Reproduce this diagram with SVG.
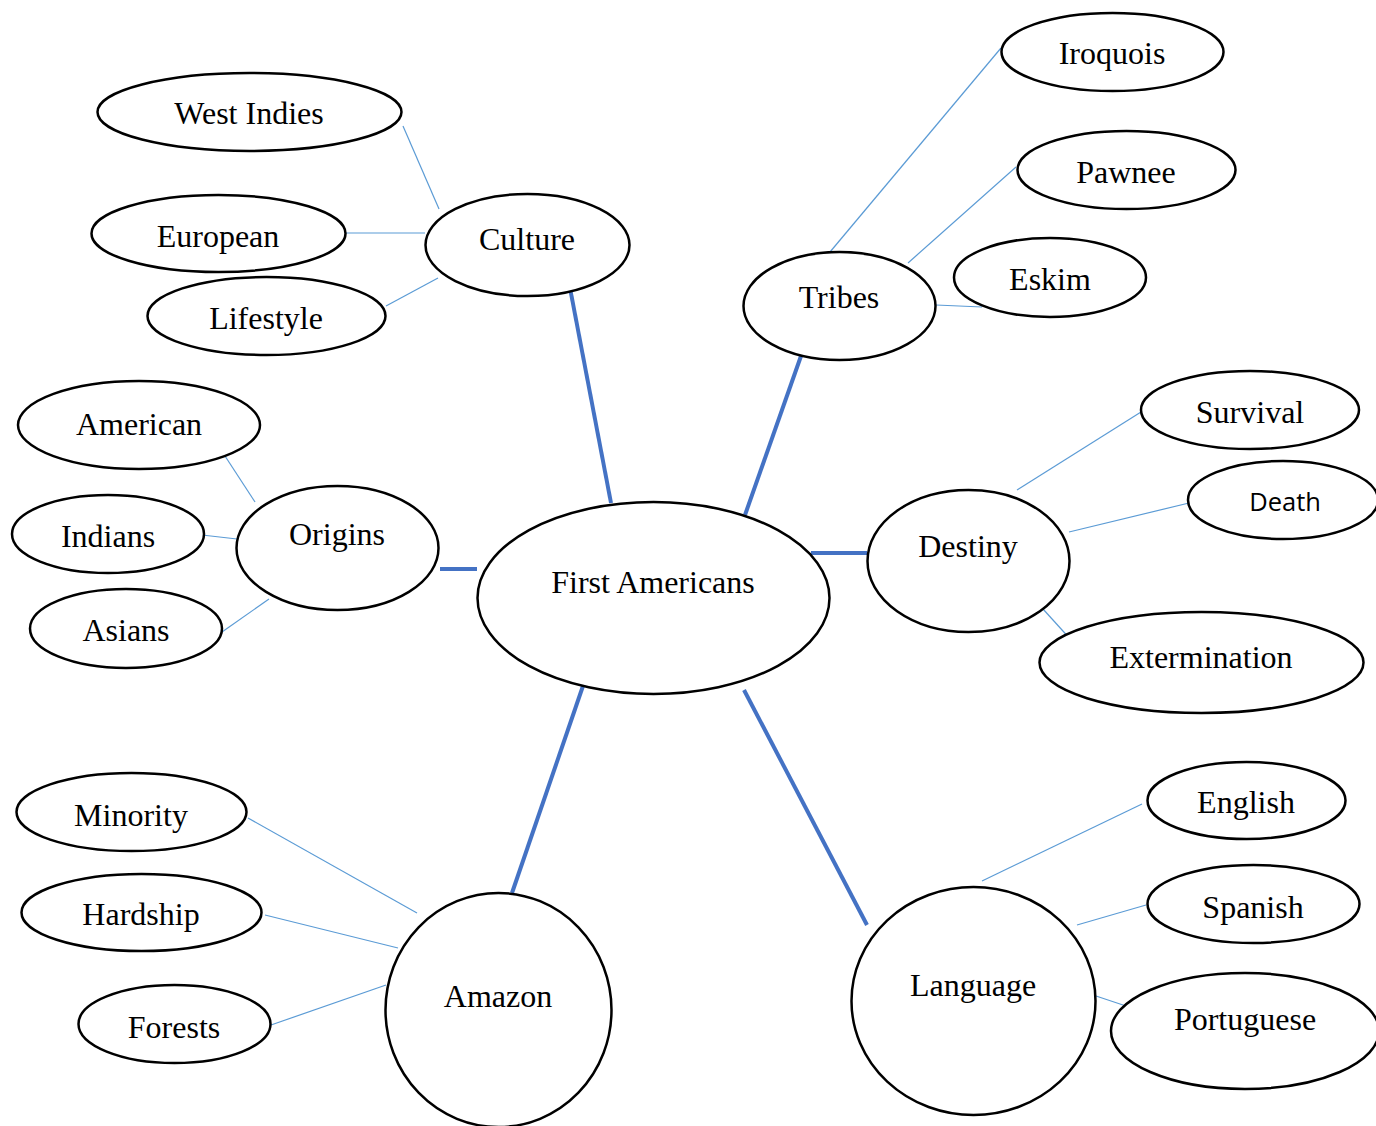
<svg xmlns="http://www.w3.org/2000/svg" width="1376" height="1126" viewBox="0 0 1376 1126">
<style>
.n{fill:#fff;stroke:#000;stroke-width:2.5}
.t{font-family:"Liberation Serif","Times New Roman",serif;font-size:32px;fill:#000;text-anchor:middle}
.s{font-family:"Open Sans","Liberation Sans",sans-serif;font-size:25.5px;fill:#000;text-anchor:middle}
.thin{stroke:#5B9BD5;stroke-width:1.2;fill:none}
.thick{stroke:#4472C4;stroke-width:4;fill:none}
</style>
<rect width="1376" height="1126" fill="#fff"/>
<g id="connectors">
<line class="thin" x1="403" y1="126" x2="439" y2="209"/>
<line class="thin" x1="346" y1="233" x2="425" y2="233"/>
<line class="thin" x1="386" y1="306" x2="438" y2="278"/>
<line class="thin" x1="830" y1="252" x2="1001" y2="48"/>
<line class="thin" x1="908" y1="263" x2="1016" y2="167"/>
<line class="thin" x1="936" y1="305" x2="982" y2="307"/>
<line class="thin" x1="1017" y1="490" x2="1141" y2="412"/>
<line class="thin" x1="1069" y1="532" x2="1189" y2="503"/>
<line class="thin" x1="1043" y1="609" x2="1072" y2="641"/>
<line class="thin" x1="225" y1="456" x2="255" y2="502"/>
<line class="thin" x1="202" y1="535" x2="237" y2="539"/>
<line class="thin" x1="222" y1="632" x2="269" y2="599"/>
<line class="thin" x1="248" y1="818" x2="417" y2="913"/>
<line class="thin" x1="265" y1="915" x2="398" y2="948"/>
<line class="thin" x1="271" y1="1025" x2="386" y2="985"/>
<line class="thin" x1="982" y1="881" x2="1142" y2="804"/>
<line class="thin" x1="1077" y1="925" x2="1146" y2="905"/>
<line class="thin" x1="1096" y1="996" x2="1126" y2="1006"/>
<line class="thick" x1="570" y1="288" x2="611" y2="503"/>
<line class="thick" x1="801" y1="356" x2="745" y2="515"/>
<line class="thick" x1="440" y1="569" x2="477" y2="569"/>
<line class="thick" x1="811" y1="553" x2="867" y2="553"/>
<line class="thick" x1="584" y1="683" x2="512" y2="893"/>
<line class="thick" x1="744" y1="690" x2="867" y2="925"/>
</g>
<g id="first-americans"><ellipse class="n" cx="653.5" cy="598" rx="176" ry="96"/><text class="t" x="653" y="593">First Americans</text></g>
<g id="culture"><ellipse class="n" cx="527.5" cy="245" rx="102" ry="51"/><text class="t" x="527" y="250">Culture</text></g>
<g id="west-indies"><ellipse class="n" cx="249.5" cy="112" rx="152" ry="39"/><text class="t" x="249" y="124">West Indies</text></g>
<g id="european"><ellipse class="n" cx="218.5" cy="233.5" rx="127" ry="38.5"/><text class="t" x="218" y="247">European</text></g>
<g id="lifestyle"><ellipse class="n" cx="266.5" cy="316" rx="119" ry="39"/><text class="t" x="266" y="329">Lifestyle</text></g>
<g id="tribes"><ellipse class="n" cx="839.5" cy="306" rx="96" ry="54"/><text class="t" x="839" y="308">Tribes</text></g>
<g id="iroquois"><ellipse class="n" cx="1112.5" cy="52" rx="111" ry="39"/><text class="t" x="1112" y="64">Iroquois</text></g>
<g id="pawnee"><ellipse class="n" cx="1126.5" cy="170" rx="109" ry="39"/><text class="t" x="1126" y="183">Pawnee</text></g>
<g id="eskim"><ellipse class="n" cx="1050" cy="277.5" rx="96" ry="39.5"/><text class="t" x="1050" y="290">Eskim</text></g>
<g id="destiny"><ellipse class="n" cx="968.5" cy="561" rx="101" ry="71"/><text class="t" x="968" y="557">Destiny</text></g>
<g id="survival"><ellipse class="n" cx="1250" cy="410" rx="109" ry="39"/><text class="t" x="1250" y="423">Survival</text></g>
<g id="death"><ellipse class="n" cx="1283" cy="500" rx="95" ry="39"/><text class="s" x="1285" y="511">Death</text></g>
<g id="extermination"><ellipse class="n" cx="1201.5" cy="662.5" rx="162" ry="50.5"/><text class="t" x="1201" y="668">Extermination</text></g>
<g id="origins"><ellipse class="n" cx="337.5" cy="548" rx="101" ry="62"/><text class="t" x="337" y="545">Origins</text></g>
<g id="american"><ellipse class="n" cx="139" cy="425" rx="121" ry="44"/><text class="t" x="139" y="435">American</text></g>
<g id="indians"><ellipse class="n" cx="108" cy="534" rx="96" ry="39"/><text class="t" x="108" y="547">Indians</text></g>
<g id="asians"><ellipse class="n" cx="126" cy="628.5" rx="96" ry="39.5"/><text class="t" x="126" y="641">Asians</text></g>
<g id="amazon"><ellipse class="n" cx="498.5" cy="1010" rx="113" ry="117"/><text class="t" x="498" y="1007">Amazon</text></g>
<g id="minority"><ellipse class="n" cx="131.5" cy="812" rx="115" ry="39"/><text class="t" x="131" y="826">Minority</text></g>
<g id="hardship"><ellipse class="n" cx="141.5" cy="912.5" rx="120" ry="38.5"/><text class="t" x="141" y="925">Hardship</text></g>
<g id="forests"><ellipse class="n" cx="174.5" cy="1024" rx="96" ry="39"/><text class="t" x="174" y="1038">Forests</text></g>
<g id="language"><ellipse class="n" cx="973.5" cy="1001" rx="122" ry="114"/><text class="t" x="973" y="996">Language</text></g>
<g id="english"><ellipse class="n" cx="1246.5" cy="800.5" rx="99" ry="38.5"/><text class="t" x="1246" y="813">English</text></g>
<g id="spanish"><ellipse class="n" cx="1253.5" cy="904" rx="106" ry="39"/><text class="t" x="1253" y="918">Spanish</text></g>
<g id="portuguese"><ellipse class="n" cx="1245" cy="1031" rx="134" ry="58"/><text class="t" x="1245" y="1030">Portuguese</text></g>
</svg>
